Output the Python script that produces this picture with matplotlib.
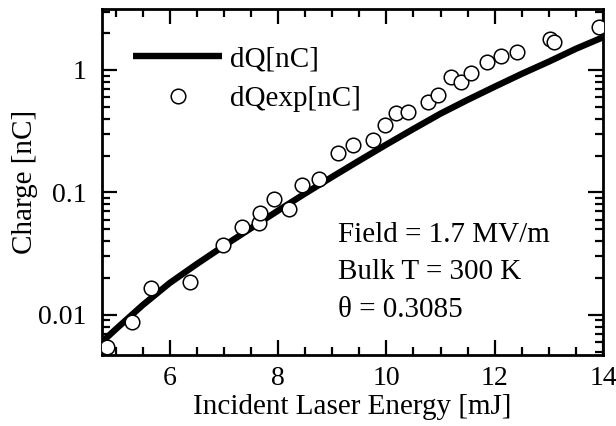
import matplotlib
matplotlib.use("Agg")
import matplotlib.pyplot as plt
from matplotlib.ticker import FixedLocator, LogLocator, NullFormatter, FuncFormatter

plt.rcParams['font.family'] = ['Liberation Serif', 'DejaVu Serif']

# Model curve dQ [nC] versus incident laser energy [mJ]
energy_model = [4.75, 5.0, 5.5, 6.0, 6.5, 7.0, 7.5, 8.0, 8.5, 9.0, 9.5,
                10.0, 10.5, 11.0, 11.5, 12.0, 12.5, 13.0, 13.5, 14.0]
dq_model = [0.0060, 0.0076, 0.012, 0.0182, 0.026, 0.0366, 0.051, 0.071, 0.098,
            0.134, 0.182, 0.246, 0.33, 0.44, 0.57, 0.73, 0.93, 1.17, 1.49, 1.85]

# Measured charge dQexp [nC]
energy_exp = [4.85, 5.3, 5.65, 6.37, 6.99, 7.33, 7.65, 7.67, 7.92, 8.2, 8.44,
              8.76, 9.1, 9.39, 9.76, 9.98, 10.18, 10.39, 10.76, 10.95, 11.2,
              11.37, 11.57, 11.85, 12.11, 12.41, 13.02, 13.09, 13.93]
dq_exp = [0.0055, 0.0088, 0.0167, 0.0184, 0.037, 0.052, 0.056, 0.068, 0.088,
          0.073, 0.115, 0.128, 0.209, 0.244, 0.268, 0.356, 0.447, 0.457, 0.55,
          0.63, 0.87, 0.79, 0.95, 1.17, 1.30, 1.41, 1.78, 1.70, 2.23]

x_major = [6, 8, 10, 12, 14]
y_major = [0.01, 0.1, 1]
y_major_labels = ['0.01', '0.1', '1']

info_lines = ['Field = 1.7 MV/m', 'Bulk T = 300 K', 'θ = 0.3085']

FS = 21
TFS = 20

fig = plt.figure(figsize=(6.16, 4.26), dpi=100)
ax = fig.add_axes([0.1656, 0.1667, 0.8134, 0.8123])

ax.plot(energy_model, dq_model, color='black', lw=4.6, solid_capstyle='butt',
        label='dQ[nC]', zorder=2)
ax.plot(energy_exp, dq_exp, linestyle='none', marker='o', markersize=10.5,
        markerfacecolor='white', markeredgecolor='black', markeredgewidth=1.1,
        label='dQexp[nC]', zorder=3)

ax.set_yscale('log')
ax.set_xlim(4.75, 14)
ax.set_ylim(0.0047, 3.15)

ax.xaxis.set_major_locator(FixedLocator(x_major))
ax.xaxis.set_minor_locator(FixedLocator([v / 2 for v in range(10, 29)]))
ax.yaxis.set_major_locator(FixedLocator(y_major))
ax.yaxis.set_major_formatter(FuncFormatter(
    lambda v, p: y_major_labels[y_major.index(min(y_major, key=lambda m: abs(m - v)))]))
ax.yaxis.set_minor_locator(LogLocator(base=10, subs=range(2, 10)))
ax.yaxis.set_minor_formatter(NullFormatter())

ax.tick_params(which='both', direction='in', top=True, right=True, width=1.6,
               labelsize=TFS, colors='black')
ax.tick_params(which='major', length=11)
ax.tick_params(which='minor', length=6)
ax.tick_params(axis='x', which='major', pad=8)
ax.tick_params(axis='y', which='major', pad=11)
for s in ax.spines.values():
    s.set_linewidth(2.0)

ax.set_xlabel('Incident Laser Energy [mJ]', fontsize=FS, labelpad=2)
ax.set_ylabel('Charge [nC]', fontsize=FS, labelpad=0)

leg = ax.legend(loc='upper left', bbox_to_anchor=(0.062, 0.893), frameon=False,
                fontsize=FS, handlelength=3.05, handletextpad=0.27,
                labelspacing=0.45, numpoints=1, borderaxespad=0, borderpad=0)

for i, line in enumerate(info_lines):
    ax.text(0.471, 0.347 - i * 0.108, line, transform=ax.transAxes,
            fontsize=FS, va='center', ha='left')

fig.savefig('out.png', dpi=100)
